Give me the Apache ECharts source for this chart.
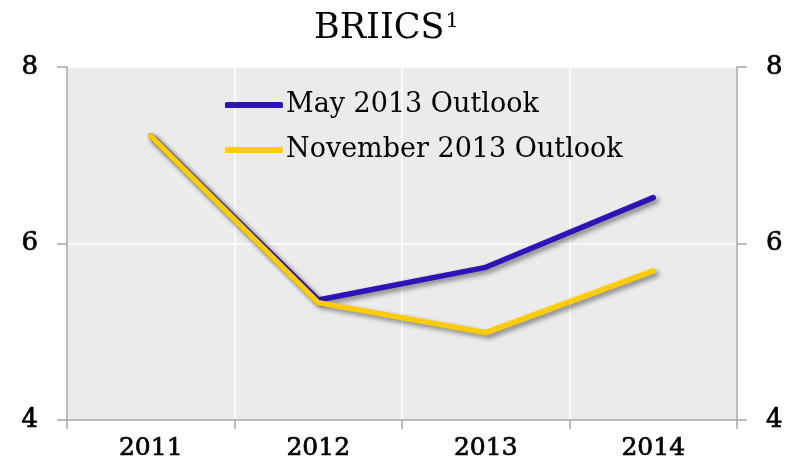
<!DOCTYPE html>
<html><head><meta charset="utf-8">
<script src="https://cdn.jsdelivr.net/npm/echarts@6/dist/echarts.min.js"></script>
<style>html,body{margin:0;padding:0;background:#fff}#c{width:794px;height:464px}</style>
</head><body><div id="c"></div>
<script>
const categories = ['2011', '2012', '2013', '2014'];
const mayOutlook = [7.22, 5.36, 5.73, 6.52];
const novOutlook = [7.22, 5.33, 4.99, 5.69];
const seriesNames = ['May 2013 Outlook', 'November 2013 Outlook'];
const yTicks = { min: 4, max: 8, interval: 2 };

const FONT = 'DejaVu Serif';
const chart = echarts.init(document.getElementById('c'));
const shadow = { shadowColor: 'rgba(0,0,0,0.45)', shadowBlur: 5, shadowOffsetX: 3, shadowOffsetY: 3 };
const heavy = { textBorderColor: '#000', textBorderWidth: 0.7 };
const yAxisCommon = {
  type: 'value', min: yTicks.min, max: yTicks.max, interval: yTicks.interval,
  axisLine: { show: true, lineStyle: { color: '#a6a6a6', width: 1.5 } },
  axisTick: { show: true, inside: false, length: 10, lineStyle: { color: '#a6a6a6', width: 1.5 } },
  axisLabel: Object.assign({ fontFamily: FONT, fontSize: 26, color: '#000', margin: 29 }, heavy),
  splitLine: { show: true, lineStyle: { color: '#ffffff', width: 1.5 } }
};
chart.setOption({
  animation: false,
  title: {
    text: '{a|BRIICS}{s|1}', left: 309, top: 6,
    textStyle: { rich: {
      a: { fontFamily: FONT, fontSize: 35, fontWeight: 'normal', color: '#000' },
      s: { fontFamily: FONT, fontSize: 21, fontWeight: 'normal', color: '#000', verticalAlign: 'top', padding: [0, 0, 14, 1] }
    } }
  },
  legend: {
    orient: 'vertical', left: 220, top: 85, itemGap: 15,
    itemWidth: 58, itemHeight: 6, icon: 'roundRect',
    textStyle: { fontFamily: FONT, fontSize: 27, color: '#000', lineHeight: 30, padding: [0, 0, 0, -2] },
    data: seriesNames
  },
  grid: { left: 67, right: 57, top: 67, bottom: 44, show: true, backgroundColor: '#ebebeb', borderWidth: 0 },
  xAxis: {
    type: 'category', data: categories, boundaryGap: true,
    axisLine: { show: true, lineStyle: { color: '#a6a6a6', width: 1.5 } },
    axisTick: { show: true, length: 9, interval: 0, lineStyle: { color: '#a6a6a6', width: 1.5 } },
    axisLabel: Object.assign({ fontFamily: FONT, fontSize: 25, color: '#000', margin: 16 }, heavy),
    splitLine: { show: true, interval: 0, lineStyle: { color: '#ffffff', width: 1.5 } }
  },
  yAxis: [
    Object.assign({}, yAxisCommon, { position: 'left' }),
    Object.assign({}, yAxisCommon, { position: 'right', splitLine: { show: false } })
  ],
  series: [
    { name: seriesNames[0], type: 'line', data: mayOutlook, showSymbol: false, symbol: 'none',
      itemStyle: { color: '#2c14b6' },
      lineStyle: Object.assign({ color: '#2c14b6', width: 5.5, cap: 'round', join: 'round' }, shadow) },
    { name: seriesNames[1], type: 'line', data: novOutlook, showSymbol: false, symbol: 'none',
      itemStyle: { color: '#ffcc00' },
      lineStyle: Object.assign({ color: '#ffcc00', width: 5.5, cap: 'round', join: 'round' }, shadow) }
  ]
});
</script></body></html>
